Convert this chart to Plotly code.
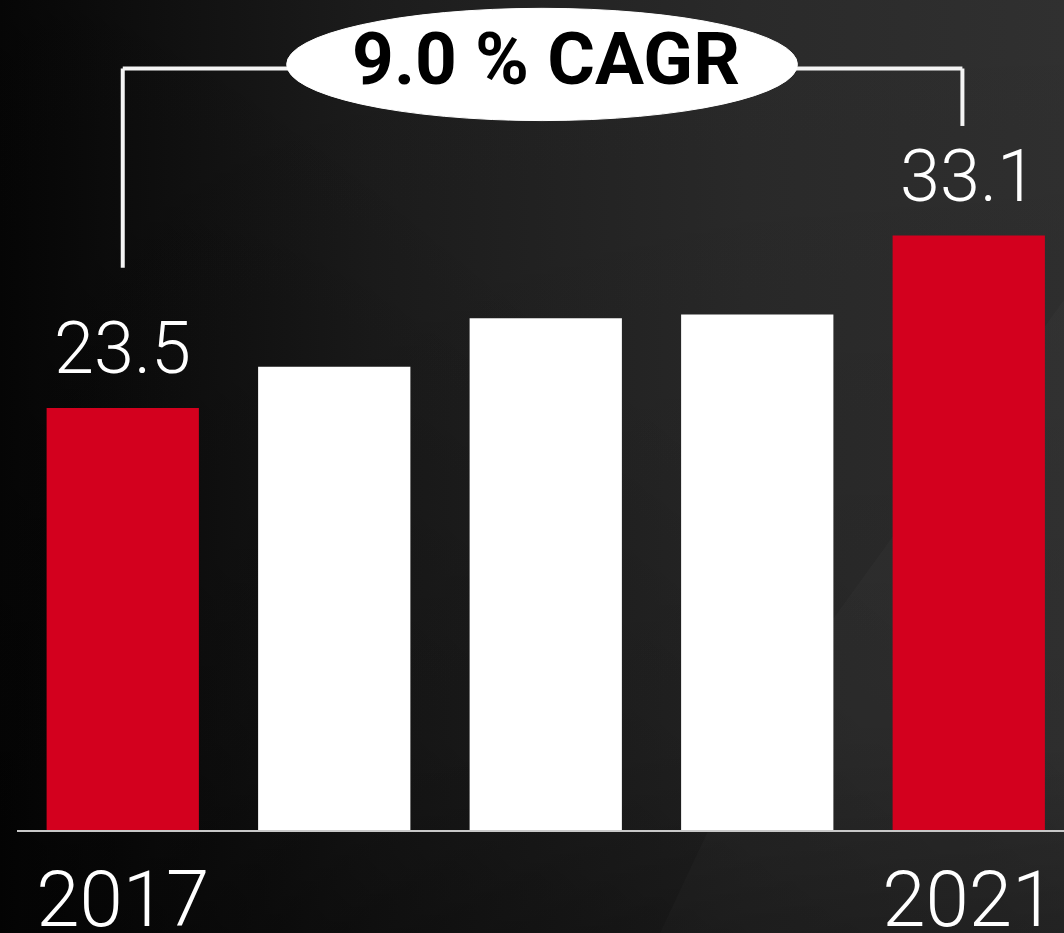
import base64
import plotly.graph_objects as go

years = ["2017", "2018", "2019", "2020", "2021"]
values = [23.5, 25.8, 28.5, 28.7, 33.1]
bar_colors = ["#d3001e", "#ffffff", "#ffffff", "#ffffff", "#d3001e"]
labelled = [0, 4]
tick_text = ["2017", "2021"]
cagr_text = "9.0 % CAGR"

W, H = 1064, 933
ML, MR, MT, MB = 17, 0, 0, 103
PW, PH = W - ML - MR, H - MT - MB

svg = f'''<svg xmlns="http://www.w3.org/2000/svg" width="{W}" height="{H}">
<defs>
<linearGradient id="g" x1="0" y1="0" x2="1" y2="0">
<stop offset="0" stop-color="#060606"/>
<stop offset="0.35" stop-color="#1c1c1c"/>
<stop offset="0.7" stop-color="#2a2a2a"/>
<stop offset="1" stop-color="#303030"/>
</linearGradient>
<linearGradient id="v" x1="0" y1="0" x2="0" y2="1">
<stop offset="0" stop-color="#000" stop-opacity="0"/>
<stop offset="0.8" stop-color="#000" stop-opacity="0.12"/>
<stop offset="1" stop-color="#000" stop-opacity="0.3"/>
</linearGradient>
<linearGradient id="d" x1="0" y1="1" x2="1" y2="0">
<stop offset="0" stop-color="#000" stop-opacity="0.35"/>
<stop offset="0.45" stop-color="#000" stop-opacity="0.1"/>
<stop offset="0.6" stop-color="#000" stop-opacity="0"/>
</linearGradient>
</defs>
<rect width="{W}" height="{H}" fill="url(#g)"/>
<rect width="{W}" height="{H}" fill="url(#d)"/>
<polygon points="660,{H} 760,720 1064,300 1064,{H}" fill="#fff" fill-opacity="0.025"/>
<rect width="{W}" height="{H}" fill="url(#v)"/>
</svg>'''
bg = "data:image/svg+xml;base64," + base64.b64encode(svg.encode()).decode()

fig = go.Figure(go.Bar(
    x=list(range(len(years))), y=values, marker=dict(color=bar_colors, line=dict(width=0)),
    width=0.72, hoverinfo="skip"))

ann = []
for i in labelled:
    ann.append(dict(x=i, y=values[i], text=f"{values[i]:.1f}", showarrow=False,
                    xanchor="center", yanchor="bottom", yshift=15,
                    font=dict(family="Roboto", size=72, color="#ffffff", weight=300)))

# bracket
top_y = 42.4
lc = "#f4f4f4"
lw = 4
shapes = [
    dict(type="line", x0=0, x1=0, y0=values[0] + 7.8, y1=top_y, line=dict(color=lc, width=lw)),
    dict(type="line", x0=0, x1=1, y0=top_y, y1=top_y, line=dict(color=lc, width=lw)),
    dict(type="line", x0=3, x1=3.97, y0=top_y, y1=top_y, line=dict(color=lc, width=lw)),
    dict(type="line", x0=3.97, x1=3.97, y0=top_y, y1=values[4] + 6.1, line=dict(color=lc, width=lw)),
    dict(type="circle", x0=0.775, x1=3.19, y0=39.5, y1=45.75, fillcolor="#ffffff",
         line=dict(color="#ffffff", width=1)),
]
ann.append(dict(x=2, y=42.95, text=f"<b>{cagr_text}</b>", showarrow=False,
                xanchor="center", yanchor="middle",
                font=dict(family="Roboto", size=73, color="#000000", weight=700)))

fig.update_layout(
    width=W, height=H, margin=dict(l=ML, r=MR, t=MT, b=MB, autoexpand=False),
    paper_bgcolor="#1a1a1a", plot_bgcolor="rgba(0,0,0,0)",
    showlegend=False,
    images=[dict(source=bg, xref="paper", yref="paper", x=-ML / PW, y=1 + MT / PH,
                 sizex=W / PW, sizey=H / PH, xanchor="left", yanchor="top",
                 sizing="stretch", layer="below")],
    shapes=shapes, annotations=ann,
    xaxis=dict(range=[-0.5, -0.5 + PW / 211.5], showgrid=False, zeroline=False,
               showline=True, linecolor="#c8c8c8", linewidth=2,
               tickvals=labelled, ticktext=tick_text, ticks="", automargin=False,
               tickfont=dict(family="Roboto", size=78, color="#ffffff", weight=300),
               ticklabelstandoff=0, fixedrange=True),
    yaxis=dict(range=[0, PH / 17.96], visible=False, fixedrange=True, automargin=False),
)

fig.write_html("out.html")
